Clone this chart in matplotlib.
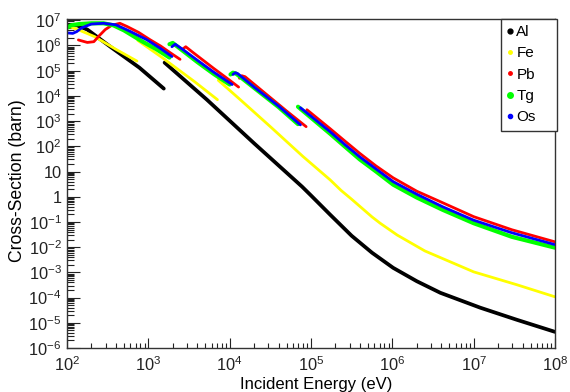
import numpy as np
import matplotlib
matplotlib.use("Agg")
import matplotlib.pyplot as plt
from matplotlib.lines import Line2D
from matplotlib.ticker import FixedLocator, LogLocator, NullFormatter

plt.rcParams['font.family'] = ['Liberation Sans', 'DejaVu Sans']
plt.rcParams['mathtext.fontset'] = 'custom'
plt.rcParams['mathtext.rm'] = 'Liberation Sans'

nan = np.nan
# log10(energy / eV) and log10(cross-section / barn); nan = edge break
al_logE = [2.03, 2.12, 2.25, 2.55, 2.89, 3.19, nan, 3.20, 3.72, 4.30, 4.89, 5.00, 5.235, 5.50, 5.75, 6.01, 6.30, 6.59, 7.08, 7.53, 8.00]
al_logS = [6.80, 6.80, 6.63, 5.91, 5.12, 4.29, nan, 5.32, 3.85, 2.12, 0.40, 0.05, -0.71, -1.55, -2.22, -2.82, -3.35, -3.81, -4.40, -4.88, -5.36]

fe_logE = [2.00, 2.12, 2.34, 2.60, 2.86, nan, 2.87, 3.17, 3.57, 3.85, nan, 3.86, 4.13, 4.50, 4.90, 5.235, 5.37, 5.50, 5.75, 5.85, 6.06, 6.40, 7.00, 7.53, 8.00]
fe_logS = [6.78, 6.65, 6.35, 5.85, 5.38, nan, 6.20, 5.52, 4.56, 3.85, nan, 4.62, 3.85, 2.78, 1.60, 0.67, 0.25, -0.10, -0.80, -1.05, -1.52, -2.15, -2.98, -3.49, -3.97]

pb_logE = [2.14, 2.16, 2.25, 2.33, 2.40, 2.47, 2.55, 2.65, 2.74, 2.88, 3.02, 3.15, 3.27, 3.39, nan,
           3.42, 3.46, 3.55, 3.80, 4.00, 4.11, nan, 4.12, 4.15, 4.19, 4.40, 4.70, 4.94, nan,
           4.95, 5.235, 5.42, 5.60, 5.80, 6.01, 6.30, 6.62, 7.00, 7.47, 8.00]
pb_logS = [6.22, 6.20, 6.12, 6.15, 6.40, 6.63, 6.80, 6.88, 6.75, 6.52, 6.23, 5.98, 5.71, 5.45, nan,
           5.85, 5.95, 5.72, 5.10, 4.62, 4.35, nan, 4.70, 4.80, 4.76, 4.20, 3.40, 2.78, nan,
           3.45, 2.70, 2.20, 1.72, 1.22, 0.75, 0.22, -0.24, -0.79, -1.31, -1.79]

tg_logE = [2.00, 2.05, 2.15, 2.30, 2.45, 2.57, 2.70, 2.93, 3.10, 3.26, nan,
           3.26, 3.30, 3.40, 3.60, 3.80, 4.00, nan, 4.01, 4.04, 4.08, 4.30, 4.60, 4.84, nan,
           4.84, 5.235, 5.42, 5.60, 5.80, 6.01, 6.30, 6.62, 7.00, 7.47, 8.00]
tg_logS = [6.70, 6.80, 6.85, 6.88, 6.88, 6.80, 6.60, 6.15, 5.85, 5.52, nan,
           6.05, 6.10, 5.85, 5.35, 4.88, 4.45, nan, 4.85, 4.92, 4.88, 4.32, 3.56, 2.88, nan,
           3.57, 2.50, 1.98, 1.48, 1.00, 0.48, -0.03, -0.52, -1.05, -1.59, -2.02]

os_logE = [2.00, 2.07, 2.12, 2.18, 2.30, 2.45, 2.60, 2.75, 2.98, 3.15, 3.29, nan,
           3.29, 3.33, 3.42, 3.60, 3.80, 4.03, nan, 4.04, 4.07, 4.10, 4.30, 4.60, 4.87, nan,
           4.87, 5.235, 5.42, 5.60, 5.80, 6.01, 6.30, 6.62, 7.00, 7.47, 8.00]
os_logS = [6.50, 6.48, 6.55, 6.70, 6.85, 6.88, 6.82, 6.60, 6.23, 5.88, 5.56, nan,
           5.95, 6.05, 5.85, 5.42, 4.95, 4.45, nan, 4.85, 4.92, 4.88, 4.35, 3.60, 2.85, nan,
           3.53, 2.58, 2.06, 1.58, 1.10, 0.60, 0.10, -0.40, -0.93, -1.43, -1.90]

names = ['Al', 'Fe', 'Pb', 'Tg', 'Os']
colors = ['#000000', '#ffff00', '#ff0000', '#00ff00', '#0000ff']
series = [(al_logE, al_logS), (fe_logE, fe_logS), (pb_logE, pb_logS), (tg_logE, tg_logS), (os_logE, os_logS)]
widths = [2.7, 2.0, 2.0, 3.0, 2.0]
legend_ms = [3.5, 2.5, 2.5, 4.0, 3.0]

fig = plt.figure(figsize=(5.70, 3.92), dpi=100)
ax = fig.add_axes([67/570, 1-348/392, 488/570, 329/392])

for (le, ls), c, w in zip(series, colors, widths):
    E = np.power(10.0, np.array(le, dtype=float))
    S = np.power(10.0, np.array(ls, dtype=float))
    ax.plot(E, S, color=c, lw=w, solid_capstyle='round', solid_joinstyle='round')

ax.set_xscale('log')
ax.set_yscale('log')
ax.set_xlim(1e2, 1e8)
ax.set_ylim(1e-6, 10**7.05)

xt = [10.0**k for k in range(2, 9)]
ax.xaxis.set_major_locator(FixedLocator(xt))
ax.set_xticklabels([r'$\mathregular{10^{%d}}$' % k for k in range(2, 9)])
ax.xaxis.set_minor_locator(LogLocator(base=10, subs=np.arange(2, 10), numticks=50))
ax.xaxis.set_minor_formatter(NullFormatter())

yk = list(range(-6, 8))
ax.yaxis.set_major_locator(FixedLocator([10.0**k for k in yk]))
ylabels = []
for k in yk:
    if k == 0:
        ylabels.append('1')
    elif k == 1:
        ylabels.append('10')
    else:
        ylabels.append(r'$\mathregular{10^{%d}}$' % k)
ax.set_yticklabels(ylabels)
ax.yaxis.set_minor_locator(LogLocator(base=10, subs=np.arange(2, 10), numticks=50))
ax.yaxis.set_minor_formatter(NullFormatter())

ax.tick_params(axis='both', which='both', direction='in', top=False, right=False, width=0.8, colors='#222222')
ax.tick_params(axis='y', which='major', length=9.5, pad=4, labelsize=11.8)
ax.tick_params(axis='y', which='minor', length=5)
ax.tick_params(axis='x', which='major', length=7, pad=5, labelsize=11.8)
ax.tick_params(axis='x', which='minor', length=3.6)
for s in ax.spines.values():
    s.set_linewidth(1.0)
    s.set_color('#333333')

fig.text(316/570, 1-384/392, 'Incident Energy (eV)', ha='center', va='center', fontsize=12)
fig.text(18/570, 1-181/392, 'Cross-Section (barn)', ha='center', va='center', rotation=90, fontsize=12.7)

handles = [Line2D([], [], marker='o', ls='none', color=c, markersize=m) for c, m in zip(colors, legend_ms)]
leg = fig.legend(handles, names, loc='upper left',
                 bbox_to_anchor=(501/570, 1-19/392, 56/570, 0.0), mode='expand',
                 borderaxespad=0, fontsize=11, handlelength=0.4, handletextpad=0.2,
                 labelspacing=0.48, borderpad=0.4, fancybox=False, framealpha=1)
leg.get_frame().set_edgecolor('#333333')
leg.get_frame().set_linewidth(1.0)

fig.savefig('out.png', dpi=100)
